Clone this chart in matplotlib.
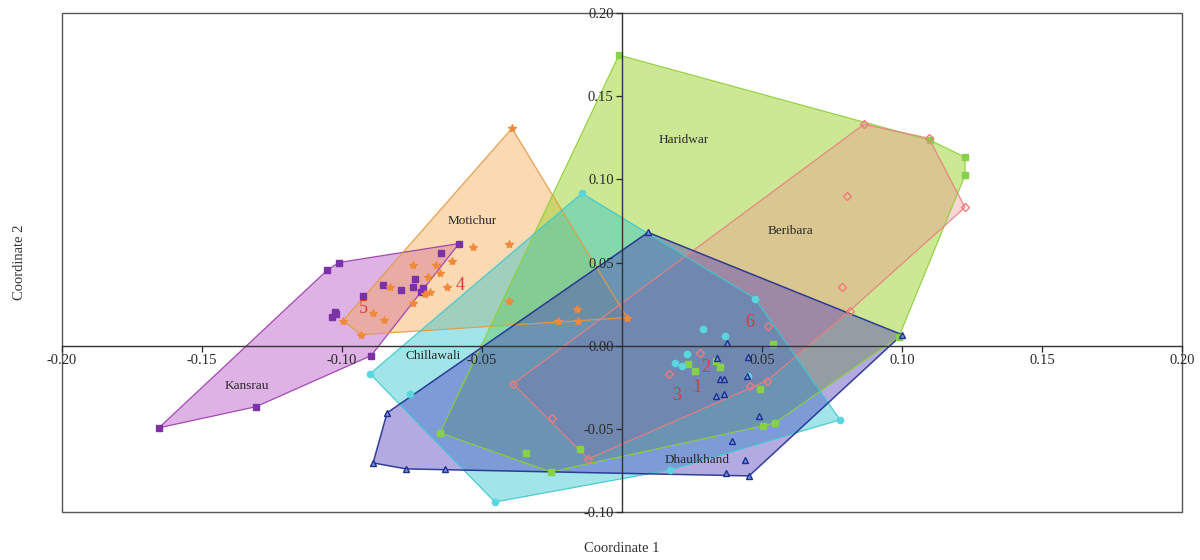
import matplotlib
matplotlib.use("Agg")
import matplotlib.pyplot as plt
from matplotlib.patches import Polygon, Rectangle
import numpy as np

plt.rcParams['font.family'] = ['Liberation Serif', 'DejaVu Serif']

# PCoA scores, one list per population
kansrau = [(-0.1654, -0.0494), (-0.1307, -0.0367), (-0.0896, -0.0060), (-0.0582, 0.0614),
           (-0.0646, 0.0560), (-0.1011, 0.0500), (-0.1054, 0.0452), (-0.0925, 0.0301),
           (-0.0854, 0.0367), (-0.0789, 0.0337), (-0.0746, 0.0355), (-0.0739, 0.0398),
           (-0.0711, 0.0349), (-0.0718, 0.0325), (-0.1025, 0.0205), (-0.1036, 0.0175),
           (-0.1021, 0.0193)]
motichur = [(-0.0393, 0.1307), (-0.0532, 0.0596), (-0.0404, 0.0614), (-0.0404, 0.0271),
            (-0.0229, 0.0151), (-0.0161, 0.0223), (-0.0157, 0.0151), (0.0018, 0.0169),
            (-0.0607, 0.0512), (-0.0625, 0.0355), (-0.0686, 0.0325), (-0.0746, 0.0482),
            (-0.0746, 0.0259), (-0.0664, 0.0482), (-0.0650, 0.0434), (-0.0693, 0.0410),
            (-0.0704, 0.0313), (-0.0829, 0.0355), (-0.0889, 0.0199), (-0.0850, 0.0157),
            (-0.0996, 0.0151), (-0.0932, 0.0066)]
haridwar = [(-0.0011, 0.1747), (0.1100, 0.1235), (0.1225, 0.1133), (0.1225, 0.1024),
            (0.0989, 0.0054), (0.0546, -0.0464), (0.0504, -0.0482), (-0.0150, -0.0620),
            (-0.0254, -0.0759), (-0.0343, -0.0645), (-0.0650, -0.0524), (0.0236, -0.0108),
            (0.0350, -0.0127), (0.0336, -0.0090), (0.0539, 0.0012), (0.0493, -0.0259),
            (0.0261, -0.0151)]
beribara = [(0.0864, 0.1331), (0.1096, 0.1247), (0.1225, 0.0831), (0.0804, 0.0898),
            (0.0786, 0.0355), (0.0521, 0.0120), (-0.0389, -0.0229), (-0.0250, -0.0434),
            (-0.0121, -0.0681), (0.0168, -0.0169), (0.0279, -0.0042), (0.0518, -0.0211),
            (0.0457, -0.0241), (0.0814, 0.0211)]
chillawali = [(-0.0143, 0.0916), (-0.0900, -0.0169), (-0.0454, -0.0940), (0.0779, -0.0446),
              (0.0289, 0.0102), (0.0368, 0.0060), (0.0232, -0.0048), (0.0189, -0.0102),
              (0.0214, -0.0120), (0.0450, -0.0181), (0.0171, -0.0747), (-0.0757, -0.0289),
              (0.0475, 0.0283)]
dhaulkhand = [(0.0093, 0.0681), (0.1000, 0.0066), (0.0454, -0.0783), (0.0371, -0.0765),
              (-0.0632, -0.0741), (-0.0771, -0.0741), (-0.0889, -0.0705), (-0.0839, -0.0404),
              (0.0375, 0.0018), (0.0339, -0.0072), (0.0450, -0.0066), (0.0350, -0.0199),
              (0.0364, -0.0199), (0.0336, -0.0301), (0.0364, -0.0289), (0.0446, -0.0181),
              (0.0489, -0.0422), (0.0393, -0.0572), (0.0439, -0.0687)]

pop_names = ['Kansrau', 'Motichur', 'Haridwar', 'Beribara', 'Chillawali', 'Dhaulkhand']
pop_label_xy = [(-0.134, -0.024), (-0.0536, 0.075), (0.022, 0.1235),
                (0.060, 0.069), (-0.0675, -0.006), (0.0268, -0.0687)]

# numbered centroids
num_labels = ['1', '2', '3', '4', '5', '6']
num_xy = [(0.0268, -0.0253), (0.0300, -0.0133), (0.0196, -0.0301),
          (-0.0579, 0.0361), (-0.0925, 0.0223), (0.0457, 0.0139)]

styles = [
    dict(fill='#b548c4', edge='#9a3aaa', a=0.42, mk='s', mfc='#7a32a6', mec='#7a32a6', ms=5),
    dict(fill='#f7a54a', edge='#e39a45', a=0.42, mk='*', mfc='#f2883a', mec='#f2883a', ms=6),
    dict(fill='#9ad22a', edge='#8fcf3a', a=0.50, mk='s', mfc='#86d04a', mec='#86d04a', ms=5),
    dict(fill='#f28c8c', edge='#e88080', a=0.36, mk='D', mfc='none', mec='#f07a7a', ms=4.5),
    dict(fill='#22c2cc', edge='#3cc8d0', a=0.42, mk='o', mfc='#5ad6de', mec='#5ad6de', ms=4.5),
    dict(fill='#4a36bc', edge='#1f2f8f', a=0.42, mk='^', mfc='#7090e0', mec='#1f2f8f', ms=5),
]


def convex_hull(pts):
    pts = sorted(set(pts))
    def cross(o, a, b):
        return (a[0]-o[0])*(b[1]-o[1]) - (a[1]-o[1])*(b[0]-o[0])
    lower, upper = [], []
    for p in pts:
        while len(lower) >= 2 and cross(lower[-2], lower[-1], p) <= 0:
            lower.pop()
        lower.append(p)
    for p in reversed(pts):
        while len(upper) >= 2 and cross(upper[-2], upper[-1], p) <= 0:
            upper.pop()
        upper.append(p)
    return lower[:-1] + upper[:-1]


fig = plt.figure(figsize=(12, 5.6), dpi=100)
ax = fig.add_axes([62/1200, 48/560, 1120/1200, 499/560])
ax.set_xlim(-0.2, 0.2)
ax.set_ylim(-0.1, 0.2)

groups = [kansrau, motichur, haridwar, beribara, chillawali, dhaulkhand]
for pts, st in zip(groups, styles):
    hull = convex_hull(pts)
    ax.add_patch(Polygon(hull, closed=True, facecolor=st['fill'], alpha=st['a'],
                         edgecolor='none', zorder=2))
    ax.add_patch(Polygon(hull, closed=True, facecolor='none', edgecolor=st['edge'],
                         lw=1.1 if st['mk'] == '^' else 0.9, alpha=0.9, zorder=3))
for pts, st in zip(groups, styles):
    arr = np.array(pts)
    ax.plot(arr[:, 0], arr[:, 1], ls='none', marker=st['mk'], ms=st['ms'],
            mfc=st['mfc'], mec=st['mec'], mew=1.0, zorder=4)

for name, (x, y) in zip(pop_names, pop_label_xy):
    ax.text(x, y, name, fontsize=9.5, color='#2a2a2a', ha='center', va='center', zorder=6)
for t, (x, y) in zip(num_labels, num_xy):
    ax.text(x, y, t, fontsize=13, color='#d63a3a', ha='center', va='center', zorder=6)

# crossing axes through the origin
ax.spines['left'].set_position(('data', 0))
ax.spines['bottom'].set_position(('data', 0))
ax.spines['top'].set_visible(False)
ax.spines['right'].set_visible(False)
for s in ('left', 'bottom'):
    ax.spines[s].set_color('#333333')
    ax.spines[s].set_linewidth(1.0)
    ax.spines[s].set_zorder(5)
ax.xaxis.set_zorder(5)
ax.yaxis.set_zorder(5)

ax.set_xticks([-0.20, -0.15, -0.10, -0.05, 0.05, 0.10, 0.15, 0.20])
ax.set_xticklabels(['-0.20', '-0.15', '-0.10', '-0.05', '0.05', '0.10', '0.15', '0.20'])
ax.set_yticks([-0.10, -0.05, 0.00, 0.05, 0.10, 0.15, 0.20])
ax.set_yticklabels(['-0.10', '-0.05', '0.00', '0.05', '0.10', '0.15', '0.20'])
ax.tick_params(axis='both', labelsize=10.5, colors='#2a2a2a', length=4, width=0.9,
               direction='out', pad=2)

# outer frame
ax.add_patch(Rectangle((0, 0), 1, 1, transform=ax.transAxes, fill=False,
                       edgecolor='#555555', lw=1.0, clip_on=False, zorder=1))

fig.text(622/1200, 1 - 548/560, 'Coordinate 1', ha='center', va='center',
         fontsize=10.5, color='#333333')
fig.text(20/1200, 1 - 262/560, 'Coordinate 2', ha='center', va='center',
         rotation=90, fontsize=10.5, color='#333333')

fig.savefig('out.png', dpi=100)
